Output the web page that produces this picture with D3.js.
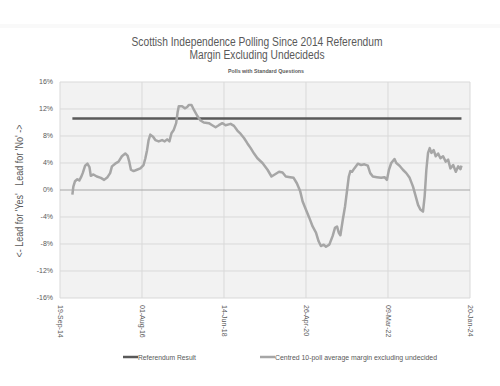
<!DOCTYPE html>
<html>
<head>
<meta charset="utf-8">
<script src="https://cdn.jsdelivr.net/npm/d3@7"></script>
<style>
  body { margin: 0; background: #fff; }
  text { font-family: "Liberation Sans", Arial, sans-serif; fill: #595959; }
</style>
</head>
<body>
<div id="chart"></div>
<script>
// centred 10-poll average, margin excluding undecideds (No minus Yes)
const poll_dates = [
  "2014-12-31", "2015-01-08", "2015-01-22", "2015-02-10", "2015-02-27", "2015-03-13", "2015-03-27",
  "2015-04-16", "2015-05-05", "2015-05-22", "2015-06-02", "2015-06-24", "2015-07-22", "2015-08-25",
  "2015-09-21", "2015-10-19", "2015-11-10", "2015-11-25", "2015-12-22", "2016-01-19", "2016-02-16",
  "2016-03-15", "2016-04-03", "2016-04-17", "2016-05-01", "2016-05-23", "2016-06-20", "2016-07-18",
  "2016-08-14", "2016-08-29", "2016-09-12", "2016-09-25", "2016-10-09", "2016-11-01", "2016-11-20",
  "2016-12-18", "2017-01-15", "2017-02-06", "2017-02-26", "2017-03-17", "2017-04-03", "2017-04-22",
  "2017-05-12", "2017-05-25", "2017-06-03", "2017-07-01", "2017-07-23", "2017-08-12", "2017-08-25",
  "2017-09-17", "2017-10-06", "2017-11-03", "2017-12-01", "2017-12-28", "2018-02-08", "2018-03-08",
  "2018-04-05", "2018-05-02", "2018-05-31", "2018-06-27", "2018-08-08", "2018-09-05", "2018-10-03",
  "2018-10-31", "2018-11-27", "2018-12-26", "2019-01-22", "2019-02-19", "2019-03-19", "2019-04-30",
  "2019-06-11", "2019-07-14", "2019-08-10", "2019-09-15", "2019-10-14", "2019-11-10", "2019-12-16",
  "2020-01-14", "2020-02-10", "2020-03-09", "2020-03-29", "2020-04-25", "2020-05-23", "2020-06-20",
  "2020-07-18", "2020-08-09", "2020-08-28", "2020-09-20", "2020-10-09", "2020-11-06", "2020-12-04",
  "2020-12-23", "2021-01-09", "2021-01-23", "2021-02-06", "2021-02-26", "2021-03-17", "2021-04-03",
  "2021-04-17", "2021-04-30", "2021-05-14", "2021-06-02", "2021-07-01", "2021-07-28", "2021-08-25",
  "2021-09-22", "2021-10-12", "2021-11-03", "2021-12-06", "2022-01-11", "2022-02-08", "2022-02-28",
  "2022-03-17", "2022-04-05", "2022-05-02", "2022-05-17", "2022-06-13", "2022-07-11", "2022-08-08",
  "2022-09-05", "2022-10-03", "2022-10-25", "2022-11-14", "2022-12-03", "2022-12-25", "2023-01-08",
  "2023-01-22", "2023-02-05", "2023-02-19", "2023-03-05", "2023-03-24", "2023-04-10", "2023-04-30",
  "2023-05-19", "2023-06-10", "2023-07-02", "2023-07-22", "2023-08-10", "2023-09-02", "2023-09-24",
  "2023-10-14", "2023-11-02", "2023-11-10"
];
const poll_margin = [
  -0.7, 0.5, 1.3, 1.6, 1.4, 1.9, 2.5,
  3.6, 3.9, 3.4, 2.1, 2.3, 2.0, 1.8,
  1.5, 1.9, 2.5, 3.5, 3.9, 4.2, 5.0,
  5.4, 5.1, 4.2, 3.0, 2.8, 3.0, 3.2,
  3.7, 4.7, 5.9, 7.4, 8.2, 7.9, 7.4,
  7.2, 7.4, 7.2, 7.5, 7.2, 8.4, 8.9,
  9.9, 11.6, 12.4, 12.4, 12.1, 12.3, 12.6,
  12.6, 11.9, 11.0, 10.3, 10.0, 9.9, 9.6,
  9.3, 9.6, 9.9, 9.6, 9.8, 9.5, 8.8,
  8.3, 7.7, 6.9, 6.2, 5.4, 4.7, 4.0,
  3.0, 2.0, 2.3, 2.7, 2.6, 2.0, 1.9,
  1.8, 1.0, -0.2, -1.7, -2.9, -4.1, -5.4,
  -6.3, -7.6, -8.3, -8.1, -8.4, -8.1, -6.8,
  -5.6, -5.4, -6.3, -6.7, -4.4, -2.4, 0.0,
  2.0, 2.8, 2.7, 3.2, 3.9, 3.7, 3.8,
  3.6, 2.5, 2.0, 1.9, 1.8, 1.9, 1.5,
  3.0, 4.0, 4.6, 4.0, 3.6, 3.0, 2.5,
  1.8, 0.5, -0.9, -2.2, -2.9, -3.2, -0.9,
  3.0, 5.5, 6.2, 5.5, 5.9, 5.0, 5.4,
  4.7, 5.0, 4.2, 4.5, 3.2, 3.7, 2.7,
  3.5, 3.1, 3.6
];
const referendum_margin = 10.6;

const axis_start = "2014-09-19";
const axis_step_days = 682;
const y_ticks = [-16, -12, -8, -4, 0, 4, 8, 12, 16];

const series_names = ["Referendum Result", "Centred 10-poll average margin excluding undecided"];
const series_colors = ["#595959", "#a6a6a6"];

const parse_date = d3.timeParse("%Y-%m-%d");
const data = poll_dates.map((d, i) => ({ date: parse_date(d), value: poll_margin[i] }));

const svg = d3.select("#chart").append("svg")
  .attr("width", 500)
  .attr("height", 386);

const margin = { top: 82, right: 30, bottom: 88, left: 60 };
const width = 500 - margin.left - margin.right;
const height = 386 - margin.top - margin.bottom;

// faint band at the top of the picture
svg.append("rect").attr("x", 0).attr("y", 24).attr("width", 500).attr("height", 4).attr("fill", "#f9f9f9");

const g = svg.append("g").attr("transform", `translate(${margin.left},${margin.top})`);

const x_start = parse_date(axis_start);
const x_ticks = d3.range(6).map(i => d3.timeDay.offset(x_start, axis_step_days * i));
const x = d3.scaleTime().domain([x_ticks[0], x_ticks[5]]).range([0, width]);
const y = d3.scaleLinear().domain([-16, 16]).range([height, 0]);

g.append("rect")
  .attr("width", width)
  .attr("height", height)
  .attr("fill", "#f2f2f2");

// gridlines
g.append("g").selectAll("line")
  .data(y_ticks.filter(d => d !== 0))
  .enter().append("line")
  .attr("x1", 0).attr("x2", width)
  .attr("y1", d => y(d)).attr("y2", d => y(d))
  .attr("stroke", "#d9d9d9")
  .attr("stroke-width", 1);

g.append("g").selectAll("line")
  .data(x_ticks)
  .enter().append("line")
  .attr("x1", d => x(d)).attr("x2", d => x(d))
  .attr("y1", 0).attr("y2", height)
  .attr("stroke", "#d9d9d9")
  .attr("stroke-width", 1);

g.append("line")
  .attr("x1", 0).attr("x2", width)
  .attr("y1", y(0)).attr("y2", y(0))
  .attr("stroke", "#a6a6a6")
  .attr("stroke-width", 1);

// y axis labels
g.append("g").selectAll("text")
  .data(y_ticks)
  .enter().append("text")
  .attr("x", -7)
  .attr("y", d => y(d))
  .attr("dy", "0.35em")
  .attr("text-anchor", "end")
  .style("font-size", "7px")
  .text(d => d + "%");

// x axis labels, rotated
const fmt = d3.timeFormat("%d-%b-%y");
g.append("g").selectAll("text")
  .data(x_ticks)
  .enter().append("text")
  .attr("transform", d => `translate(${x(d)},${height + 7}) rotate(90)`)
  .attr("dy", "0.35em")
  .attr("text-anchor", "start")
  .style("font-size", "7px")
  .text(d => fmt(d));

// referendum result line across the span of the polls
g.append("line")
  .attr("x1", x(data[0].date))
  .attr("x2", x(data[data.length - 1].date))
  .attr("y1", y(referendum_margin))
  .attr("y2", y(referendum_margin))
  .attr("stroke", series_colors[0])
  .attr("stroke-width", 2.5);

g.append("path")
  .datum(data)
  .attr("fill", "none")
  .attr("stroke", series_colors[1])
  .attr("stroke-width", 2.5)
  .attr("stroke-linejoin", "round")
  .attr("d", d3.line()
    .x(d => x(d.date))
    .y(d => y(d.value))
  );

// titles (squeezed a little, the original font is narrower)
svg.append("text")
  .attr("x", 257).attr("y", 46)
  .attr("text-anchor", "middle")
  .style("font-size", "12px")
  .attr("textLength", 251)
  .attr("lengthAdjust", "spacingAndGlyphs")
  .text("Scottish Independence Polling Since 2014 Referendum");

svg.append("text")
  .attr("x", 257).attr("y", 59)
  .attr("text-anchor", "middle")
  .style("font-size", "12px")
  .attr("textLength", 135)
  .attr("lengthAdjust", "spacingAndGlyphs")
  .text("Margin Excluding Undecideds");

svg.append("text")
  .attr("x", 266).attr("y", 73)
  .attr("text-anchor", "middle")
  .style("font-size", "6px")
  .style("font-weight", "bold")
  .attr("textLength", 76)
  .attr("lengthAdjust", "spacingAndGlyphs")
  .text("Polls with Standard Questions");

svg.append("text")
  .attr("transform", "translate(23,191) rotate(-90)")
  .attr("text-anchor", "middle")
  .attr("xml:space", "preserve")
  .style("font-size", "10.5px")
  .attr("textLength", 133)
  .attr("lengthAdjust", "spacingAndGlyphs")
  .text("<- Lead for 'Yes'   Lead for 'No' ->");

// legend
const legend_x = [123, 260];
const legend_len = [58, 162];
series_names.forEach((name, i) => {
  const lg = svg.append("g").attr("transform", `translate(${legend_x[i]},357)`);
  lg.append("line")
    .attr("x1", 0).attr("x2", 15)
    .attr("stroke", series_colors[i])
    .attr("stroke-width", 2.5);
  lg.append("text")
    .attr("x", 15)
    .attr("dy", "0.35em")
    .style("font-size", "7.5px")
    .attr("textLength", legend_len[i])
    .attr("lengthAdjust", "spacingAndGlyphs")
    .text(name);
});
</script>
</body>
</html>
